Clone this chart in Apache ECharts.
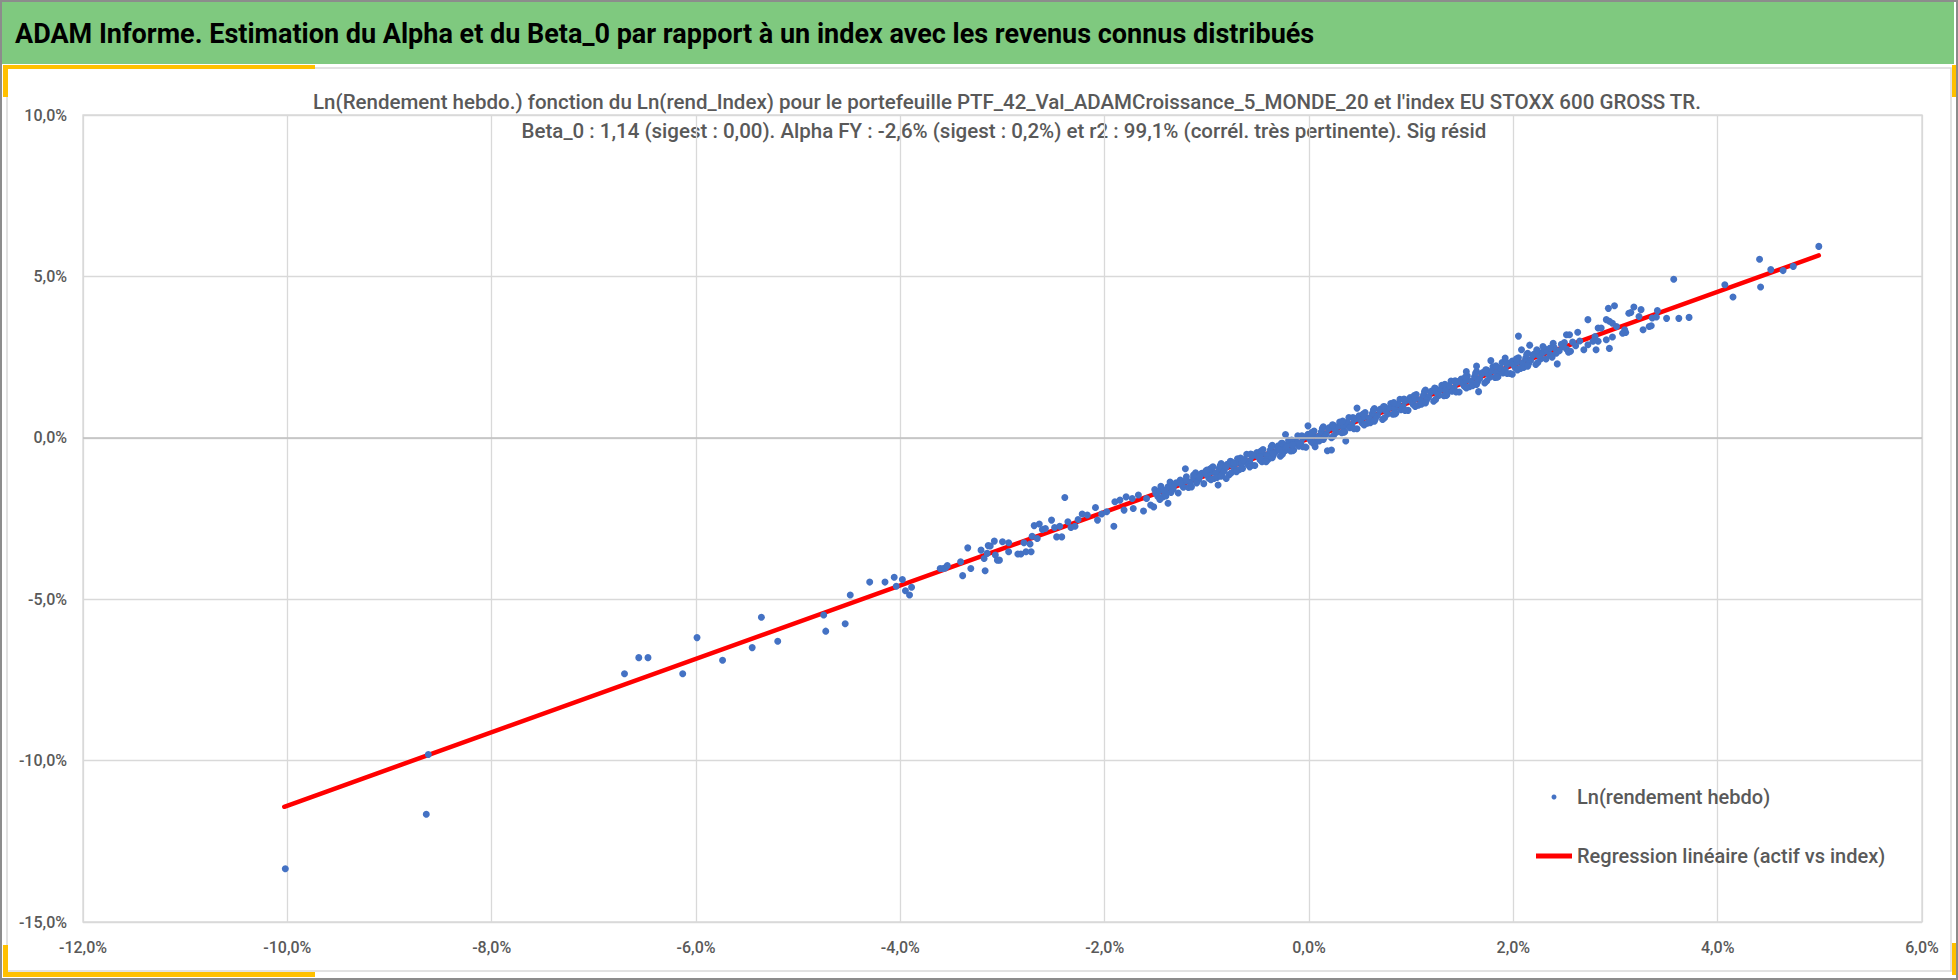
<!DOCTYPE html>
<html>
<head>
<meta charset="utf-8">
<title>ADAM Informe - Alpha et Beta_0</title>
<script src="https://cdn.jsdelivr.net/npm/echarts@6.0.0/dist/echarts.min.js"></script>
<style>
  html, body { margin: 0; padding: 0; background: #fff; }
  #chart { width: 1958px; height: 980px; }
</style>
</head>
<body>
<div id="chart"></div>
<script>
var pageTitle = 'ADAM Informe. Estimation du Alpha et du Beta_0 par rapport à un index avec les revenus connus distribués';
var chartTitle = [
    "Ln(Rendement hebdo.) fonction du Ln(rend_Index) pour le portefeuille PTF_42_Val_ADAMCroissance_5_MONDE_20 et l'index EU STOXX 600 GROSS TR.",
    'Beta_0 : 1,14 (sigest : 0,00). Alpha FY : -2,6% (sigest : 0,2%) et r2 : 99,1% (corrél. très pertinente). Sig résid'
];
var seriesNames = ['Ln(rendement hebdo)', 'Regression linéaire (actif vs index)'];
var xTicks = [-12, -10, -8, -6, -4, -2, 0, 2, 4, 6];
var yTicks = [-15, -10, -5, 0, 5, 10];

// [rend_Index %, rendement hebdo %]
var tailPoints = [
    [-10.02, -13.35], [-8.64, -11.66], [-8.62, -9.81],
    [-6.70, -7.31], [-6.56, -6.81], [-6.47, -6.81], [-6.13, -7.31], [-5.99, -6.19], [-5.74, -6.89],
    [-5.45, -6.50], [-5.36, -5.56], [-5.20, -6.30], [-4.75, -5.49], [-4.73, -5.99], [-4.54, -5.76],
    [-4.49, -4.87], [-4.30, -4.47], [-4.15, -4.47], [-4.06, -4.32], [-3.98, -4.39], [-4.04, -4.60],
    [-3.95, -4.74], [-3.91, -4.87], [-3.89, -4.63], [-3.61, -4.05], [-3.58, -4.05], [-3.56, -4.03],
    [-3.54, -3.96], [-3.41, -3.84], [-3.39, -4.27], [-3.34, -3.41], [-3.31, -4.05], [-3.21, -3.48],
    [-3.18, -3.74], [-3.17, -4.12], [-3.15, -3.58], [-3.12, -3.35], [-3.08, -3.20], [-3.07, -3.63],
    [-3.03, -3.79], [-3.00, -3.22], [-2.94, -3.25], [-2.94, -3.53], [-2.85, -3.60], [-2.82, -3.60],
    [-2.79, -3.25], [-2.77, -3.53], [-2.72, -3.53], [-2.73, -3.29], [-2.71, -3.05], [-2.69, -2.72],
    [-2.64, -2.67], [-2.66, -3.12], [-2.61, -2.84], [-2.58, -2.81], [-2.52, -2.55], [-2.49, -2.78],
    [-2.47, -3.07], [-2.44, -2.74], [-2.42, -3.07], [-2.39, -1.85], [-2.36, -2.60], [-2.33, -2.78],
    [-2.29, -2.74], [-2.26, -2.53], [-2.22, -2.36], [-2.17, -2.39], [-2.09, -2.16], [-2.07, -2.55],
    [-2.03, -2.36], [-1.98, -2.29], [-1.91, -2.74], [-1.90, -1.98], [-1.85, -1.93], [-1.81, -2.24],
    [-1.79, -1.83], [-1.73, -1.88], [-1.72, -2.19], [-1.67, -1.77], [-1.62, -2.27], [-1.59, -1.88],
    [-1.55, -2.08], [-1.52, -2.14], [-3.14, -3.34], [-3.05, -3.79]
];

var corePoints = [
    [-1.51, -1.60], [-1.48, -1.82], [-1.50, -1.72], [-1.46, -1.63], [-1.43, -1.83], [-1.45, -1.50],
    [-1.41, -1.66], [-1.38, -1.52], [-1.40, -1.80], [-1.36, -1.37], [-1.33, -1.59], [-1.35, -1.69],
    [-1.31, -1.43], [-1.28, -1.71], [-1.30, -1.39], [-1.26, -1.31], [-1.23, -1.53], [-1.25, -1.43],
    [-1.21, -1.34], [-1.18, -1.54], [-1.20, -1.21], [-1.16, -1.38], [-1.13, -1.24], [-1.15, -1.52],
    [-1.11, -1.08], [-1.08, -1.30], [-1.10, -1.40], [-1.06, -1.14], [-1.03, -1.42], [-1.05, -1.10],
    [-1.01, -1.03], [-0.98, -1.25], [-1.00, -1.15], [-0.96, -1.06], [-0.93, -1.26], [-0.95, -0.93],
    [-0.91, -1.09], [-0.88, -0.95], [-0.90, -1.23], [-0.86, -0.80], [-0.83, -1.02], [-0.85, -1.12],
    [-0.81, -0.86], [-0.78, -1.14], [-0.80, -0.82], [-0.76, -0.74], [-0.73, -0.96], [-0.75, -0.86],
    [-0.71, -0.78], [-0.68, -0.98], [-0.70, -0.65], [-0.66, -0.81], [-0.63, -0.67], [-0.65, -0.95],
    [-0.61, -0.51], [-0.58, -0.73], [-0.60, -0.83], [-0.56, -0.58], [-0.53, -0.86], [-0.55, -0.54],
    [-0.51, -0.46], [-0.48, -0.68], [-0.50, -0.58], [-0.46, -0.49], [-0.43, -0.69], [-0.45, -0.36],
    [-0.41, -0.53], [-0.38, -0.39], [-0.40, -0.67], [-0.36, -0.23], [-0.33, -0.45], [-0.35, -0.55],
    [-0.31, -0.29], [-0.28, -0.57], [-0.30, -0.25], [-0.26, -0.17], [-0.23, -0.39], [-0.25, -0.29],
    [-0.21, -0.21], [-0.18, -0.41], [-0.20, -0.08], [-0.16, -0.24], [-0.13, -0.10], [-0.15, -0.38],
    [-0.11, 0.06], [-0.08, -0.16], [-0.10, -0.26], [-0.06, -0.01], [-0.03, -0.29], [-0.05, 0.03],
    [-0.01, 0.11], [0.02, -0.11], [0.00, -0.01], [0.04, 0.08], [0.07, -0.12], [0.05, 0.21],
    [0.09, 0.04], [0.12, 0.18], [0.10, -0.10], [0.14, 0.34], [0.17, 0.12], [0.15, 0.02],
    [0.19, 0.28], [0.22, 0.00], [0.20, 0.32], [0.24, 0.39], [0.27, 0.17], [0.25, 0.27],
    [0.29, 0.36], [0.32, 0.16], [0.30, 0.49], [0.34, 0.33], [0.37, 0.47], [0.35, 0.19],
    [0.39, 0.63], [0.42, 0.41], [0.40, 0.31], [0.44, 0.56], [0.47, 0.28], [0.45, 0.60],
    [0.49, 0.68], [0.52, 0.46], [0.50, 0.56], [0.54, 0.65], [0.57, 0.45], [0.55, 0.78],
    [0.59, 0.61], [0.62, 0.75], [0.60, 0.47], [0.64, 0.91], [0.67, 0.69], [0.65, 0.59],
    [0.69, 0.85], [0.72, 0.57], [0.70, 0.89], [0.74, 0.96], [0.77, 0.74], [0.75, 0.84],
    [0.79, 0.93], [0.82, 0.73], [0.80, 1.06], [0.84, 0.90], [0.87, 1.04], [0.85, 0.76],
    [0.89, 1.19], [0.92, 0.97], [0.90, 0.87], [0.94, 1.13], [0.97, 0.85], [0.95, 1.17],
    [0.99, 1.25], [1.02, 1.03], [1.00, 1.13], [1.04, 1.21], [1.07, 1.01], [1.05, 1.34],
    [1.09, 1.18], [1.12, 1.32], [1.10, 1.04], [1.14, 1.48], [1.17, 1.26], [1.15, 1.16],
    [1.19, 1.41], [1.22, 1.13], [1.20, 1.45], [1.24, 1.53], [1.27, 1.31], [1.25, 1.41],
    [1.29, 1.50], [1.32, 1.30], [1.30, 1.63], [1.34, 1.47], [1.37, 1.61], [1.35, 1.33],
    [1.39, 1.76], [1.42, 1.54], [1.40, 1.44], [1.44, 1.70], [1.47, 1.42], [1.45, 1.74],
    [1.49, 1.82], [1.52, 1.60], [1.50, 1.70], [1.54, 1.78], [1.57, 1.58], [1.55, 1.91],
    [1.59, 1.75], [1.62, 1.89], [1.60, 1.61], [1.64, 2.05], [1.67, 1.83], [1.65, 1.73],
    [1.69, 1.98], [1.72, 1.70], [1.70, 2.02], [1.74, 2.10], [1.77, 1.88], [1.75, 1.98],
    [1.79, 2.07], [1.82, 1.87], [1.80, 2.20], [1.84, 2.03], [1.87, 2.17], [1.85, 1.89],
    [1.89, 2.33], [1.92, 2.11], [1.90, 2.01], [1.94, 2.27], [1.97, 1.99], [1.95, 2.31],
    [1.99, 2.38], [2.02, 2.16], [2.00, 2.26], [2.04, 2.35], [2.07, 2.15], [2.05, 2.48],
    [2.09, 2.32], [2.12, 2.46], [2.10, 2.18], [2.14, 2.62], [2.17, 2.40], [2.15, 2.30],
    [2.19, 2.55], [2.22, 2.27], [2.20, 2.59], [2.24, 2.67], [2.27, 2.45], [2.25, 2.55],
    [2.29, 2.64], [2.32, 2.44], [2.30, 2.77],
    [-0.97, -0.97], [-0.96, -1.30], [-0.87, -0.87], [-0.86, -1.19], [-0.77, -0.73], [-0.76, -1.08],
    [-0.67, -0.63], [-0.66, -0.95], [-0.57, -0.50], [-0.56, -0.85], [-0.47, -0.41], [-0.46, -0.74],
    [-0.37, -0.28], [-0.36, -0.62], [-0.27, -0.17], [-0.26, -0.51], [-0.17, -0.07], [-0.16, -0.40],
    [-0.07, 0.06], [-0.06, -0.28], [0.03, 0.17], [0.04, -0.17], [0.13, 0.29], [0.14, -0.05],
    [0.23, 0.40], [0.24, 0.06], [0.33, 0.52], [0.34, 0.17], [0.43, 0.63], [0.44, 0.28],
    [0.53, 0.74], [0.54, 0.40], [0.63, 0.86], [0.64, 0.51], [0.73, 0.97], [0.74, 0.62],
    [0.83, 1.09], [0.84, 0.74], [0.93, 1.20], [0.94, 0.85], [1.03, 1.31], [1.04, 0.97],
    [1.13, 1.43], [1.14, 1.08], [1.23, 1.54], [1.24, 1.19], [1.33, 1.66], [1.34, 1.31],
    [1.43, 1.77], [1.44, 1.42], [1.53, 1.88], [1.54, 1.54], [1.63, 2.00], [1.64, 1.65],
    [1.73, 2.11], [1.74, 1.76], [1.83, 2.23], [1.84, 1.88], [1.93, 2.34], [1.94, 1.99],
    [2.03, 2.45], [2.04, 2.10], [2.13, 2.57], [2.14, 2.22], [2.23, 2.68], [2.24, 2.33],
    [-1.46, -1.91], [-1.38, -2.03], [-1.42, -1.62], [-1.33, -1.52], [-1.26, -1.39], [-1.21, -0.96],
    [-1.20, -1.31], [-1.13, -1.15], [-1.07, -1.21], [-1.00, -1.00], [-0.94, -0.90], [-0.89, -1.46],
    [-0.81, -1.26], [-0.81, -0.90], [-0.74, -0.79], [-0.71, -1.05], [-0.64, -0.69], [-0.58, -0.90],
    [-0.55, -0.53], [-0.48, -0.59], [-0.42, -0.74], [-0.35, -0.48], [-0.29, -0.38], [-0.22, -0.28],
    [-0.16, -0.22], [-0.09, -0.17], [0.06, -0.28], [-0.23, 0.10], [-0.01, 0.37], [0.18, -0.40],
    [0.22, -0.38], [0.36, -0.10], [0.47, 0.92], [1.66, 1.43], [1.54, 2.05], [1.64, 2.22],
    [1.78, 2.39], [1.92, 2.47], [1.99, 1.97], [2.05, 3.15], [2.16, 2.87]
];

var headPoints = [
    [2.33, 2.70], [2.36, 2.58], [2.40, 2.80], [2.45, 2.70], [2.47, 2.90], [2.38, 2.50],
    [2.42, 2.62], [2.50, 2.95], [2.58, 2.97], [2.61, 2.85], [2.65, 3.00], [2.52, 2.75],
    [2.43, 2.29], [2.49, 2.83], [2.39, 2.93], [2.36, 2.78], [2.29, 2.83], [2.23, 2.73],
    [2.08, 2.73], [2.52, 3.19], [2.55, 3.19], [2.63, 3.27], [2.73, 3.66], [2.69, 2.73],
    [2.73, 2.88], [2.78, 2.99], [2.80, 3.14], [2.83, 2.99], [2.81, 2.73], [2.83, 3.40],
    [2.86, 3.40], [2.91, 3.66], [2.94, 3.61], [2.97, 3.55], [2.93, 4.01], [2.99, 4.09],
    [3.01, 3.45], [3.09, 3.35], [3.10, 3.26], [3.07, 3.24], [2.97, 3.12], [2.91, 3.04],
    [2.94, 2.77], [2.56, 2.68], [2.54, 2.65], [3.13, 3.86], [3.15, 3.88], [3.18, 4.05],
    [3.25, 3.97], [3.23, 3.76], [3.27, 3.35], [3.33, 3.45], [3.35, 3.47], [3.36, 3.71],
    [3.40, 3.74], [3.41, 3.94], [3.50, 3.70], [3.62, 3.70], [3.72, 3.73], [3.57, 4.91],
    [4.07, 4.74], [4.15, 4.36], [4.41, 5.53], [4.42, 4.67], [4.52, 5.21], [4.64, 5.18],
    [4.74, 5.31], [4.99, 5.93]
];

var regressionLine = [[-10.03, -11.43], [4.99, 5.65]];

function pct(v) {
    return v.toFixed(1).replace('.', ',') + '%';
}

var textColor = '#595959';
var gridColor = '#d9d9d9';

var chart = echarts.init(document.getElementById('chart'), null, { renderer: 'svg' });

var option = {
    backgroundColor: '#ffffff',
    animation: false,
    textStyle: { fontFamily: 'Roboto' },
    graphic: [
        { type: 'rect', shape: { x: 1, y: 1, width: 1956, height: 978 }, style: { fill: 'none', stroke: '#8c8c8c', lineWidth: 2 } },
        { type: 'rect', shape: { x: 2, y: 2, width: 1952, height: 62 }, style: { fill: '#7fc97f' } },
        { type: 'rect', shape: { x: 7, y: 68, width: 1944, height: 903 }, style: { fill: 'none', stroke: gridColor, lineWidth: 1.5 } },
        // coins jaunes du cadre
        { type: 'rect', shape: { x: 3, y: 65, width: 312, height: 4 }, style: { fill: '#ffc000' } },
        { type: 'rect', shape: { x: 3, y: 65, width: 5, height: 32 }, style: { fill: '#ffc000' } },
        { type: 'rect', shape: { x: 3, y: 972, width: 312, height: 5 }, style: { fill: '#ffc000' } },
        { type: 'rect', shape: { x: 3, y: 945, width: 5, height: 32 }, style: { fill: '#ffc000' } },
        { type: 'rect', shape: { x: 1952, y: 65, width: 4, height: 32 }, style: { fill: '#ffc000' } },
        { type: 'rect', shape: { x: 1952, y: 943, width: 4, height: 32 }, style: { fill: '#ffc000' } },
        {
            type: 'text', x: 15, y: 34,
            style: { text: pageTitle, font: 'bold 27px Roboto', fill: '#000000', textVerticalAlign: 'middle' }
        },
        {
            type: 'text', x: 1007, y: 102,
            style: { text: chartTitle[0], font: '500 20.5px Roboto', fill: textColor, textAlign: 'center', textVerticalAlign: 'middle' }
        },
        {
            type: 'text', x: 1004, y: 131,
            style: { text: chartTitle[1], font: '500 20.5px Roboto', fill: textColor, textAlign: 'center', textVerticalAlign: 'middle' }
        }
    ],
    grid: {
        left: 83, right: 36, top: 115, bottom: 58,
        outerBoundsMode: 'none',
        show: true, borderColor: gridColor, borderWidth: 1.3
    },
    legend: {
        orient: 'vertical',
        left: 1531, top: 780,
        itemWidth: 36, itemHeight: 5, itemGap: 35,
        textStyle: { fontSize: 20, fontWeight: 500, color: textColor, lineHeight: 24 },
        data: [
            { name: seriesNames[0], icon: 'circle' },
            { name: seriesNames[1], icon: 'rect' }
        ]
    },
    xAxis: {
        type: 'value',
        min: xTicks[0], max: xTicks[xTicks.length - 1], interval: xTicks[1] - xTicks[0],
        axisLine: { show: false },
        axisTick: { show: false },
        axisLabel: { formatter: pct, fontSize: 16, fontWeight: 500, color: textColor, margin: 17 },
        splitLine: { lineStyle: { color: gridColor, width: 1.3 } }
    },
    yAxis: {
        type: 'value',
        min: yTicks[0], max: yTicks[yTicks.length - 1], interval: yTicks[1] - yTicks[0],
        axisLine: { show: false },
        axisTick: { show: false },
        axisLabel: { formatter: pct, fontSize: 16, fontWeight: 500, color: textColor, margin: 16 },
        splitLine: { lineStyle: { color: gridColor, width: 1.3 } }
    },
    series: [
        {
            name: seriesNames[0],
            type: 'scatter',
            z: 3,
            symbolSize: 7,
            itemStyle: { color: '#4472c4', opacity: 1 },
            data: tailPoints.concat(corePoints, headPoints)
        },
        {
            name: seriesNames[1],
            type: 'line',
            z: 2,
            showSymbol: false,
            symbol: 'none',
            itemStyle: { color: '#ff0000' },
            lineStyle: { color: '#ff0000', width: 4.5, cap: 'round' },
            data: regressionLine,
            markLine: {
                silent: true,
                symbol: 'none',
                label: { show: false },
                lineStyle: { color: '#bfbfbf', width: 1.5, type: 'solid' },
                data: [{ yAxis: 0 }]
            }
        }
    ]
};

chart.setOption(option);
</script>
</body>
</html>
